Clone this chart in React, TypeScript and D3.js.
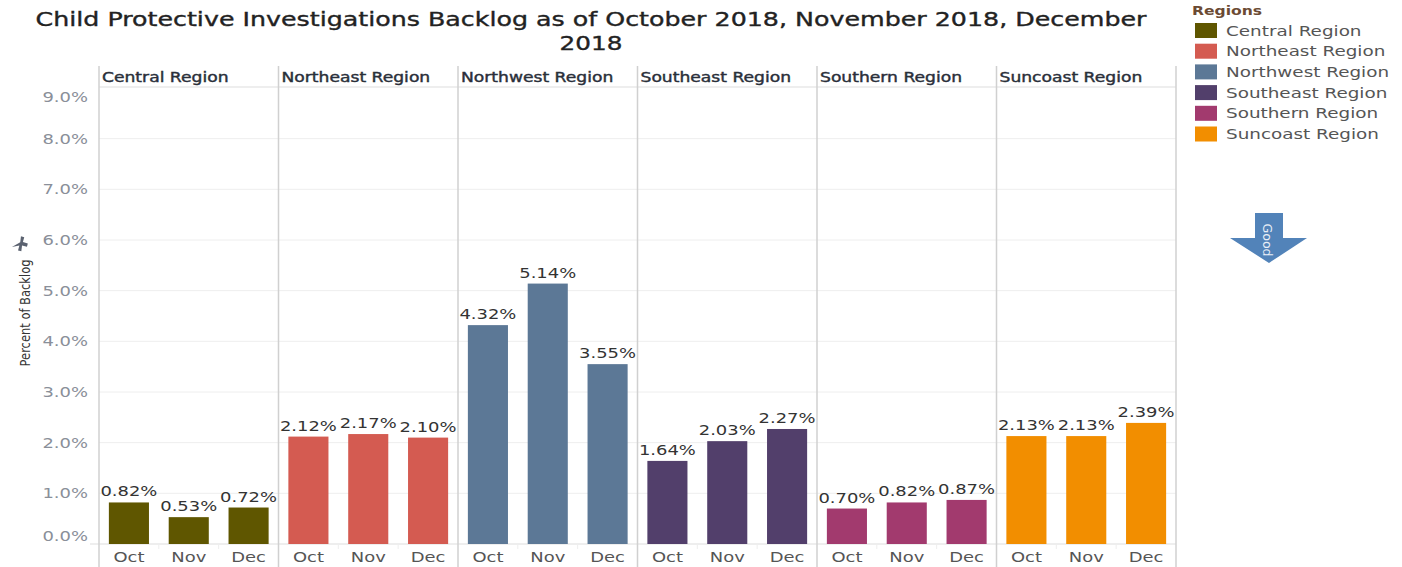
import React, { useRef, useEffect } from 'react';
import * as d3 from 'd3';

// data
const regions = ['Central Region', 'Northeast Region', 'Northwest Region', 'Southeast Region', 'Southern Region', 'Suncoast Region'];
const months = ['Oct', 'Nov', 'Dec'];
const central = [0.82, 0.53, 0.72];
const northeast = [2.12, 2.17, 2.10];
const northwest = [4.32, 5.14, 3.55];
const southeast = [1.64, 2.03, 2.27];
const southern = [0.70, 0.82, 0.87];
const suncoast = [2.13, 2.13, 2.39];
const regionColors = ['#5f5600', '#d45b51', '#5c7896', '#523f6b', '#a23a6e', '#f28e00'];
const yTicks = [0, 1, 2, 3, 4, 5, 6, 7, 8, 9];

const values = [central, northeast, northwest, southeast, southern, suncoast];

const W = 1402;
const H = 567;
const SX = 1.33; // the reference text is stretched sideways

const App = () => {
	const svgRef = useRef<SVGSVGElement>(null);

	useEffect(() => {
		const svg = d3.select(svgRef.current);
		svg.selectAll('*').remove();
		const font = 'DejaVu Sans, sans-serif';

		// stretched text helper
		const txt = (g, x, y, s, size, color, anchor = 'start', weight = 'normal', sx = SX) =>
			g.append('text')
				.attr('transform', `translate(${x},${y}) scale(${sx},1)`)
				.attr('text-anchor', anchor)
				.attr('font-family', font)
				.attr('font-size', size)
				.attr('font-weight', weight)
				.attr('fill', color)
				.text(s);

		// 1. scales
		const left = 99, right = 1176;
		const x0 = d3.scaleBand().domain(regions).range([left, right]);
		const x1 = d3.scaleBand().domain(months).range([0, x0.bandwidth()]).paddingInner(0.33).paddingOuter(0.165);
		const y = d3.scaleLinear().domain([0, 9]).range([544, 88]);

		// 2. title
		const title = [
			'Child Protective Investigations Backlog as of October 2018, November 2018, December',
			'2018',
		];
		title.forEach((t, i) => {
			const el = svg.append('text')
				.attr('x', 591).attr('y', 26 + i * 24)
				.attr('text-anchor', 'middle')
				.attr('font-family', font)
				.attr('font-size', 19)
				.attr('fill', '#222')
				.attr('stroke', '#222').attr('stroke-width', 0.35)
				.text(t);
			if (i === 0) el.attr('textLength', 1111).attr('lengthAdjust', 'spacingAndGlyphs');
			else el.attr('transform', 'translate(591,0) scale(1.3,1) translate(-591,0)');
		});

		// 3. gridlines + y axis labels
		const grid = svg.append('g');
		grid.selectAll('line')
			.data(yTicks.filter(t => t > 0 && t < 9))
			.join('line')
				.attr('x1', left).attr('x2', right)
				.attr('y1', d => y(d)).attr('y2', d => y(d))
				.attr('stroke', '#eeeeee');

		yTicks.forEach(t => {
			let ty = y(t) + 5;
			if (t === 9) ty = y(t) + 14;
			if (t === 0) ty = y(t) - 3;
			txt(svg, 88, ty, `${t.toFixed(1)}%`, 13.5, '#8a8f99', 'end');
		});

		// header line + baseline
		svg.append('line').attr('x1', left).attr('x2', right).attr('y1', 87).attr('y2', 87).attr('stroke', '#dddddd');
		svg.append('line').attr('x1', 90).attr('x2', right).attr('y1', y(0)).attr('y2', y(0)).attr('stroke', '#dddddd');

		// 4. panels
		regions.forEach((r, i) => {
			const px = x0(r);
			const g = svg.append('g').attr('transform', `translate(${px},0)`);
			txt(g, 3, 82, r, 13.5, '#2a2f3a', 'start', 'normal', 1.27)
				.attr('stroke', '#2a2f3a').attr('stroke-width', 0.4);

			g.selectAll('rect')
				.data(values[i])
				.join('rect')
					.attr('x', (d, j) => x1(months[j]))
					.attr('y', d => y(d))
					.attr('width', x1.bandwidth())
					.attr('height', d => y(0) - y(d))
					.attr('fill', regionColors[i]);

			values[i].forEach((v, j) => {
				const cx = x1(months[j]) + x1.bandwidth() / 2;
				txt(g, cx, y(v) - 6, `${v.toFixed(2)}%`, 13.5, '#333', 'middle');
				txt(g, cx, 562, months[j], 13.5, '#555', 'middle');
			});

			// small separators under the baseline
			[1, 2].forEach(k => {
				const sx = x1(months[k]) - (x1.step() - x1.bandwidth()) / 2;
				g.append('line')
					.attr('x1', sx).attr('x2', sx)
					.attr('y1', y(0)).attr('y2', y(0) + 5)
					.attr('stroke', '#eeeeee');
			});
		});

		// panel separators
		svg.selectAll('.sep')
			.data([...regions.map(r => x0(r)), right])
			.join('line')
				.attr('class', 'sep')
				.attr('x1', d => d).attr('x2', d => d)
				.attr('y1', 66).attr('y2', H)
				.attr('stroke', '#d0d0d0')
				.attr('stroke-width', 1.5);

		// 5. y axis title + pin
		svg.append('text')
			.attr('transform', 'translate(30,313) rotate(-90) scale(0.82,1)')
			.attr('text-anchor', 'middle')
			.attr('font-family', font)
			.attr('font-size', 14)
			.attr('fill', '#333')
			.text('Percent of Backlog');
		svg.append('path')
			.attr('transform', 'translate(21,246) rotate(-30) scale(1.2)')
			.attr('d', 'M-7,-3 L1,-3 L4,-7 L6,-5 L3,-2 L6,1 L4,3 L1,0 L-2,4 L-4,2 L-1,-1 Z')
			.attr('fill', '#5b6270');

		// 6. legend
		const lg = svg.append('g');
		txt(lg, 1192, 15, 'Regions', 13, '#6b4a33', 'start', 'bold', 1.2);
		regions.forEach((r, i) => {
			const ly = 23 + i * 20.7;
			lg.append('rect').attr('x', 1195).attr('y', ly).attr('width', 22).attr('height', 15).attr('fill', regionColors[i]);
			txt(lg, 1226, ly + 12.5, r, 13.5, '#555', 'start', 'normal', 1.36);
		});

		// good arrow
		svg.append('path')
			.attr('d', 'M1255,213 L1283,213 L1283,238 L1307,238 L1269,263 L1230,238 L1255,238 Z')
			.attr('fill', '#5283b9');
		svg.append('text')
			.attr('transform', 'translate(1263,240) rotate(90)')
			.attr('text-anchor', 'middle')
			.attr('font-family', font)
			.attr('font-size', 12.5)
			.attr('fill', '#e8eef6')
			.text('Good');
	}, []);

	return (
		<div style={{ position: 'absolute', left: 0, top: 0 }}>
			<svg ref={svgRef} width={W} height={H} style={{ display: 'block', background: '#fff' }}></svg>
		</div>
	);
};

export default App;
